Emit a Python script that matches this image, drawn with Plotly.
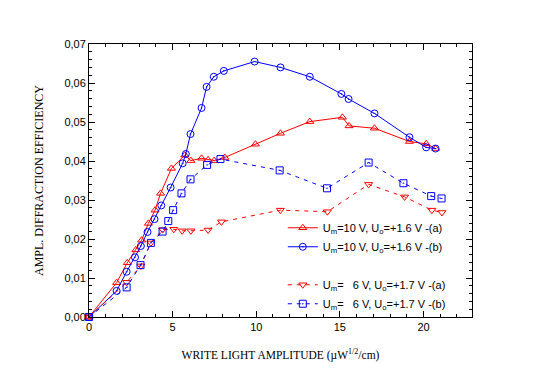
import plotly.graph_objects as go

# Um=10 V, Uo=+1.6 V (a) - red triangles, solid
xa = [0, 1.65, 2.29, 2.8, 3.15, 3.55, 3.95, 4.28, 4.93, 5.73, 6.09, 6.73, 7.12, 7.48, 8.12, 9.95, 11.45, 13.2, 15.15, 15.55, 17.07, 19.16, 20.16, 20.72]
ya = [0, 0.0088, 0.0139, 0.0172, 0.0197, 0.024, 0.0274, 0.0317, 0.0381, 0.0415, 0.0401, 0.0407, 0.0403, 0.0401, 0.0409, 0.0443, 0.0471, 0.0501, 0.0512, 0.049, 0.0484, 0.045, 0.0444, 0.0432]

# Um=10 V, Uo=+1.6 V (b) - blue circles, solid
xb = [0, 1.65, 2.25, 2.75, 3.1, 3.5, 3.92, 4.32, 4.88, 5.6, 5.79, 6.07, 6.73, 7.03, 7.46, 8.06, 9.9, 11.45, 13.2, 15.09, 15.52, 17.07, 19.16, 20.16, 20.72]
yb = [0, 0.0067, 0.0116, 0.0153, 0.0182, 0.0218, 0.0251, 0.0286, 0.0332, 0.0394, 0.0418, 0.0469, 0.0536, 0.059, 0.0616, 0.0631, 0.0655, 0.064, 0.0616, 0.0572, 0.0559, 0.0522, 0.0461, 0.0435, 0.0432]

# Um=6 V, Uo=+1.7 V (a) - red inverted triangles, dashed
xc = [0, 2.25, 3.1, 3.7, 4.4, 5.07, 5.57, 6.09, 7.12, 7.92, 11.44, 14.25, 16.72, 18.87, 20.5, 21.1]
yc = [0, 0.0089, 0.0131, 0.019, 0.0224, 0.0225, 0.0221, 0.0221, 0.0223, 0.0244, 0.0274, 0.027, 0.034, 0.0308, 0.0274, 0.0268]

# Um=6 V, Uo=+1.7 V (b) - blue squares, dashed
xd = [0, 2.25, 3.08, 3.7, 4.4, 4.74, 5.03, 5.53, 6.07, 7.06, 7.86, 11.4, 14.23, 16.72, 18.8, 20.46, 21.08]
yd = [0, 0.0076, 0.0133, 0.019, 0.0219, 0.0246, 0.0274, 0.0317, 0.0353, 0.039, 0.0405, 0.0376, 0.033, 0.0396, 0.0343, 0.031, 0.0304]

names = [
    "U<sub>m</sub>=10 V, U<sub>o</sub>=+1.6 V -(a)",
    "U<sub>m</sub>=10 V, U<sub>o</sub>=+1.6 V -(b)",
    "U<sub>m</sub>=\u00a0\u00a0\u00a06 V, U<sub>o</sub>=+1.7 V -(a)",
    "U<sub>m</sub>=\u00a0\u00a0\u00a06 V, U<sub>o</sub>=+1.7 V -(b)",
]

RED = "#ff0000"
BLUE = "#0000ff"
MS = 7

fig = go.Figure()
fig.add_trace(go.Scatter(x=xa, y=ya, name=names[0], mode="lines+markers",
                         line=dict(color=RED, width=1),
                         marker=dict(symbol="triangle-up-open", size=MS, color=RED, line=dict(width=1)),
                         cliponaxis=False))
fig.add_trace(go.Scatter(x=xb, y=yb, name=names[1], mode="lines+markers",
                         line=dict(color=BLUE, width=1),
                         marker=dict(symbol="circle-open-dot", size=MS, color=BLUE, line=dict(width=1)),
                         cliponaxis=False))
fig.add_trace(go.Scatter(x=[None], y=[None], name=" ", mode="lines",
                         line=dict(color="rgba(0,0,0,0)", width=1)))
fig.add_trace(go.Scatter(x=xc, y=yc, name=names[2], mode="lines+markers",
                         line=dict(color=RED, width=1, dash="4px,5px"),
                         marker=dict(symbol="triangle-down-open", size=MS, color=RED, line=dict(width=1)),
                         cliponaxis=False))
fig.add_trace(go.Scatter(x=xd, y=yd, name=names[3], mode="lines+markers",
                         line=dict(color=BLUE, width=1, dash="4px,5px"),
                         marker=dict(symbol="square-open-dot", size=MS, color=BLUE, line=dict(width=1)),
                         cliponaxis=False))

axis_common = dict(
    showline=True, linecolor="black", linewidth=1, mirror="allticks",
    ticks="inside", ticklen=6, tickcolor="black", tickwidth=1,
    showgrid=False, zeroline=False, automargin=False,
    tickfont=dict(family="Liberation Sans", size=11, color="black"),
)

fig.update_xaxes(range=[0, 22.9], tick0=0, dtick=5,
                 minor=dict(ticks="inside", ticklen=3, dtick=1, tickcolor="black", showgrid=False),
                 title=dict(text="WRITE LIGHT AMPLITUDE (\u00b5W<sup>1/2</sup>/cm)",
                            font=dict(family="Liberation Serif", size=11.5, color="black"), standoff=18),
                 **axis_common)
fig.update_yaxes(range=[0, 0.07], tick0=0, dtick=0.01, tickformat=".2f",
                 minor=dict(ticks="inside", ticklen=3, dtick=0.002, tickcolor="black", showgrid=False),
                 title=dict(text="AMPL. DIFFRACTION EFFICIENCY",
                            font=dict(family="Liberation Serif", size=12, color="black"), standoff=18),
                 **axis_common)

fig.update_layout(
    width=552, height=373,
    margin=dict(l=81, r=88, t=36, b=64, autoexpand=False),
    paper_bgcolor="white", plot_bgcolor="white",
    separators=", ",
    font=dict(family="Liberation Sans", size=11, color="black"),
    legend=dict(x=0.506, y=0.38, xanchor="left", yanchor="top",
                bgcolor="rgba(0,0,0,0)", borderwidth=0,
                font=dict(family="Liberation Sans", size=11, color="black"),
                tracegroupgap=0, itemwidth=30),
    showlegend=True,
)

fig.write_html("out.html")
